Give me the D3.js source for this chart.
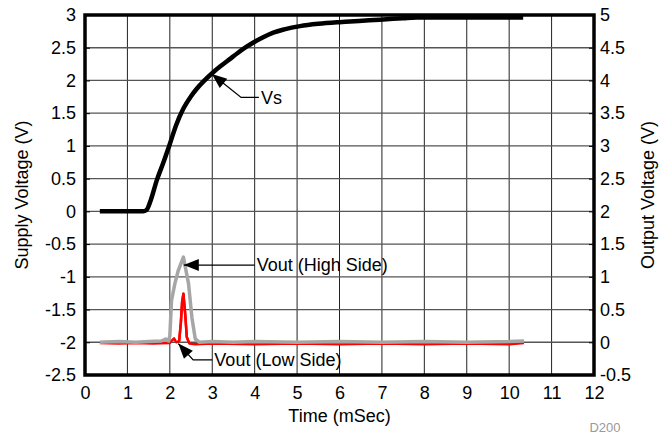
<!DOCTYPE html>
<html><head><meta charset="utf-8">
<script src="https://cdn.jsdelivr.net/npm/d3@7"></script>
<style>body{margin:0;background:#fff}svg{display:block;font-family:"Liberation Sans",Arial,sans-serif}</style>
</head><body><svg id="c" width="665" height="438"></svg>
<script>
const xTicks = [0,1,2,3,4,5,6,7,8,9,10,11,12];
const leftTicks = [-2.5,-2,-1.5,-1,-0.5,0,0.5,1,1.5,2,2.5,3];
const rightTicks = [-0.5,0,0.5,1,1.5,2,2.5,3,3.5,4,4.5,5];

// Supply voltage Vs (left axis, V)
const vsTime = [0.35,1.0,1.37,1.45,1.55,1.69,1.85,2.0,2.15,2.32,2.5,2.63,2.8,3.03,3.2,3.42,3.6,3.81,3.97,4.2,4.44,4.7,5.07,5.5,6.0,6.25,6.7,7.11,7.5,7.82,8.5,9.5,10.33];
const vsVolt = [0,0,0,0.02,0.17,0.47,0.75,1.03,1.32,1.57,1.76,1.87,1.99,2.13,2.22,2.33,2.42,2.515,2.58,2.66,2.73,2.78,2.83,2.865,2.89,2.9,2.92,2.935,2.95,2.96,2.96,2.96,2.96];

// Vout High Side (right axis, V)
const hiTime = [0.35,0.8,1.2,1.5,1.8,1.9,1.97,2.0,2.04,2.12,2.2,2.32,2.44,2.52,2.6,2.7,3.0,3.5,4.0,5.0,6.0,7.0,8.0,9.0,10.0,10.35];
const hiVolt = [0,0.01,0,0.01,0.02,0.05,0.02,0.1,0.64,0.9,1.1,1.3,0.9,0.38,0.05,0,0.01,0,0.01,0,0.01,0,0.01,0,0.01,0.02];

// Vout Low Side (right axis, V)
const loTime = [0.35,0.8,1.2,1.6,2.0,2.05,2.1,2.15,2.22,2.26,2.29,2.32,2.36,2.4,2.46,2.6,3.0,4.0,5.0,6.0,7.0,8.0,9.0,10.0,10.35];
const loVolt = [-0.01,-0.02,-0.01,-0.02,-0.01,0.03,0.06,0.0,0.02,0.3,0.62,0.74,0.45,0.08,-0.02,-0.03,-0.02,-0.03,-0.02,-0.03,-0.02,-0.03,-0.02,-0.03,-0.01];

const svg = d3.select('#c');
const L=85, R=594, T=15, B=375;
const x = d3.scaleLinear().domain([0,12]).range([L,R]);
const yL = d3.scaleLinear().domain([-2.5,3]).range([B,T]);
const yR = d3.scaleLinear().domain([-0.5,5]).range([B,T]);

// grid
svg.append('g').selectAll('line').data(xTicks.slice(1,-1)).join('line')
  .attr('x1',d=>x(d)).attr('x2',d=>x(d)).attr('y1',T).attr('y2',B)
  .attr('stroke','#222').attr('stroke-width',1);
svg.append('g').selectAll('line').data(leftTicks.slice(1,-1)).join('line')
  .attr('x1',L).attr('x2',R).attr('y1',d=>yL(d)).attr('y2',d=>yL(d))
  .attr('stroke','#555').attr('stroke-width',1.3);

// axes
const fs = 18;
const gx = svg.append('g').attr('transform',`translate(0,${B})`)
  .call(d3.axisBottom(x).tickValues(xTicks).tickSize(0).tickPadding(11).tickFormat(d3.format('d')));
const gl = svg.append('g').attr('transform',`translate(${L},0)`)
  .call(d3.axisLeft(yL).tickValues(leftTicks).tickSize(-5).tickPadding(9).tickFormat(d=>String(d)));
const gr = svg.append('g').attr('transform',`translate(${R},0)`)
  .call(d3.axisRight(yR).tickValues(rightTicks).tickSize(-5).tickPadding(6).tickFormat(d=>String(d)));
[gx,gl,gr].forEach(g=>{
  g.select('.domain').remove();
  g.selectAll('text').attr('font-size',fs).attr('fill','#000').attr('font-family','"Liberation Sans",Arial,sans-serif');
  g.selectAll('line').attr('stroke','#000');
});

// series
const lineL = d3.line().x(d=>x(d[0])).y(d=>yL(d[1])).curve(d3.curveMonotoneX);
const lineR = d3.line().x(d=>x(d[0])).y(d=>yR(d[1]));
svg.append('path').datum(loTime.map((t,i)=>[t,loVolt[i]])).attr('d',lineR)
  .attr('fill','none').attr('stroke','#ff0000').attr('stroke-width',2.5).attr('stroke-linejoin','round');
svg.append('path').datum(hiTime.map((t,i)=>[t,hiVolt[i]])).attr('d',lineR)
  .attr('fill','none').attr('stroke','#a6a6a6').attr('stroke-width',3.5).attr('stroke-linejoin','round');
svg.append('path').datum(loTime.filter(t=>t>2.15&&t<2.5).map(t=>[t,loVolt[loTime.indexOf(t)]])).attr('d',lineR)
  .attr('fill','none').attr('stroke','#ff0000').attr('stroke-width',2.5).attr('stroke-linejoin','round');
svg.append('path').datum(vsTime.map((t,i)=>[t,vsVolt[i]])).attr('d',lineL)
  .attr('fill','none').attr('stroke','#000').attr('stroke-width',4.5).attr('stroke-linejoin','round');

// frame
svg.append('rect').attr('x',L).attr('y',T).attr('width',R-L).attr('height',B-T)
  .attr('fill','none').attr('stroke','#000').attr('stroke-width',3.5);

// annotations
function arrow(pts){
  svg.append('polyline').attr('points',pts.map(p=>p.join(',')).join(' '))
    .attr('fill','none').attr('stroke','#000').attr('stroke-width',1.3);
  const [tx,ty]=pts[0], [nx,ny]=pts[1];
  const a=Math.atan2(ny-ty,nx-tx), len=15, w=6;
  const bx=tx+len*Math.cos(a), by=ty+len*Math.sin(a);
  const px=-Math.sin(a)*w, py=Math.cos(a)*w;
  svg.append('polygon').attr('points',`${tx},${ty} ${bx+px},${by+py} ${bx-px},${by-py}`).attr('fill','#000');
}
function label(t,xx,yy){
  svg.append('text').attr('x',xx).attr('y',yy).attr('dy','0.35em').attr('font-size',fs).attr('fill','#000').text(t);
}
arrow([[x(2.99),yL(2.1)],[x(3.68),yL(1.74)],[x(4.1),yL(1.74)]]);
label('Vs',x(4.15),yL(1.74));
arrow([[x(2.33),yR(1.18)],[x(4.0),yR(1.18)]]);
label('Vout (High Side)',x(4.05),yR(1.18));
arrow([[x(2.2),yL(-2.02)],[x(2.55),yL(-2.27)],[x(3.0),yL(-2.27)]]);
label('Vout (Low Side)',x(3.05),yL(-2.27));

// titles
svg.append('text').attr('transform',`translate(22,${(T+B)/2}) rotate(-90)`).attr('text-anchor','middle')
  .attr('dy','0.35em').attr('font-size',fs).text('Supply Voltage (V)');
svg.append('text').attr('transform',`translate(648,${(T+B)/2}) rotate(-90)`).attr('text-anchor','middle')
  .attr('dy','0.35em').attr('font-size',fs).text('Output Voltage (V)');
svg.append('text').attr('x',(L+R)/2).attr('y',422).attr('text-anchor','middle').attr('font-size',fs).text('Time (mSec)');
svg.append('text').attr('x',605).attr('y',432).attr('text-anchor','middle').attr('font-size',13).attr('fill','#999').text('D200');
</script></body></html>
